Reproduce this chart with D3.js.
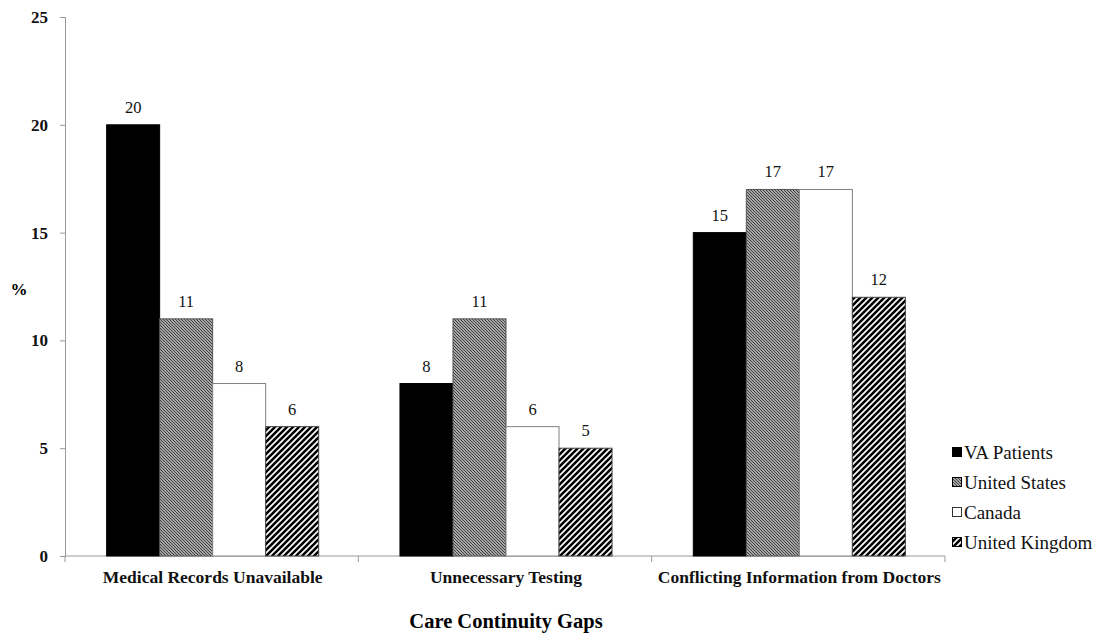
<!DOCTYPE html>
<html><head><meta charset="utf-8">
<script src="https://cdn.jsdelivr.net/npm/d3@7"></script>
<style>body{margin:0;background:#fff}</style>
</head><body>
<svg id="c" width="1095" height="642"></svg>
<script>
const categories = ["Medical Records Unavailable","Unnecessary Testing","Conflicting Information from Doctors"];
const seriesNames = ["VA Patients","United States","Canada","United Kingdom"];
const vaValues = [20, 8, 15];
const usValues = [11, 11, 17];
const caValues = [8, 6, 17];
const ukValues = [6, 5, 12];
const yTicks = [0,5,10,15,20,25];
const allValues = [vaValues, usValues, caValues, ukValues];
const FONT = "Liberation Serif";

const svg = d3.select("#c");
const defs = svg.append("defs");
const pUS = defs.append("pattern").attr("id","pUS").attr("patternUnits","userSpaceOnUse")
  .attr("width",3).attr("height",3);
pUS.append("rect").attr("width",3).attr("height",3).attr("fill","#d0d0d0");
pUS.append("path").attr("d","M-1,-1 L4,4 M-1,2 L1,4 M2,-1 L4,1").attr("stroke","#3a3a3a").attr("stroke-width",1.1);
const pUK = defs.append("pattern").attr("id","pUK").attr("patternUnits","userSpaceOnUse")
  .attr("width",6).attr("height",6);
pUK.append("rect").attr("width",6).attr("height",6).attr("fill","#fff");
pUK.append("path").attr("d","M-1,7 L7,-1 M-4,4 L4,-4 M2,10 L10,2").attr("stroke","#000").attr("stroke-width",2.6);

const fills = ["#000","url(#pUS)","#fff","url(#pUK)"];
const strokes = ["#000","#555","#808080","#444"];

const x0 = d3.scaleBand().domain(categories).range([66,946]).paddingInner(0.277).paddingOuter(0.1385);
const x1 = d3.scaleBand().domain(seriesNames).range([0,x0.bandwidth()]);
const y = d3.scaleLinear().domain([0,25]).range([556,17]);

const yAxis = svg.append("g").attr("transform","translate(65,0)")
  .call(d3.axisLeft(y).tickValues(yTicks).tickSize(5).tickPadding(12));
yAxis.attr("font-family",FONT);
yAxis.selectAll("path,line").attr("stroke","#999");
yAxis.selectAll("text").attr("font-family",FONT).attr("font-weight","bold").attr("font-size",17).attr("fill","#111");

const xAxisG = svg.append("g").attr("transform","translate(0,556)");
xAxisG.append("line").attr("x1",65).attr("x2",945).attr("stroke","#999");
const bounds = [65].concat(categories.map(c=>x0(c)+x0.bandwidth()+x0.step()*x0.paddingInner()/2 - 1));
xAxisG.selectAll("line.t").data(bounds).join("line").attr("class","t")
  .attr("x1",d=>d).attr("x2",d=>d).attr("y1",0).attr("y2",6).attr("stroke","#999");
xAxisG.selectAll("text").data(categories).join("text")
  .attr("x",d=>x0(d)+x0.bandwidth()/2).attr("y",27)
  .attr("text-anchor","middle").attr("font-family",FONT).attr("font-weight","bold")
  .attr("font-size",17.5).attr("fill","#111").text(d=>d);

seriesNames.forEach((s,si)=>{
  const g = svg.append("g");
  g.selectAll("rect").data(categories).join("rect")
    .attr("x",c=>x0(c)+x1(s)).attr("width",x1.bandwidth())
    .attr("y",(c,i)=>y(allValues[si][i])).attr("height",(c,i)=>y(0)-y(allValues[si][i]))
    .attr("fill",fills[si]).attr("stroke",strokes[si]).attr("stroke-width",1);
  g.selectAll("text").data(categories).join("text")
    .attr("x",c=>x0(c)+x1(s)+x1.bandwidth()/2).attr("y",(c,i)=>y(allValues[si][i])-12)
    .attr("text-anchor","middle").attr("font-family",FONT).attr("font-size",16.5).attr("fill","#111")
    .text((c,i)=>allValues[si][i]);
});

svg.append("text").attr("x",19).attr("y",295).attr("text-anchor","middle")
  .attr("font-family",FONT).attr("font-weight","bold").attr("font-size",17).text("%");
svg.append("text").attr("x",506).attr("y",628).attr("text-anchor","middle")
  .attr("font-family",FONT).attr("font-weight","bold").attr("font-size",20.5).text("Care Continuity Gaps");

const leg = svg.append("g");
seriesNames.forEach((s,i)=>{
  const yy = 453 + i*30;
  leg.append("rect").attr("x",952.5).attr("y",yy-5.5).attr("width",9).attr("height",9)
    .attr("fill",fills[i]).attr("stroke",i==2?"#333":"#000").attr("stroke-width",1);
  leg.append("text").attr("x",964).attr("y",yy+5.5).attr("font-family",FONT)
    .attr("font-size",19).attr("fill","#111").text(s);
});
</script>
</body></html>
